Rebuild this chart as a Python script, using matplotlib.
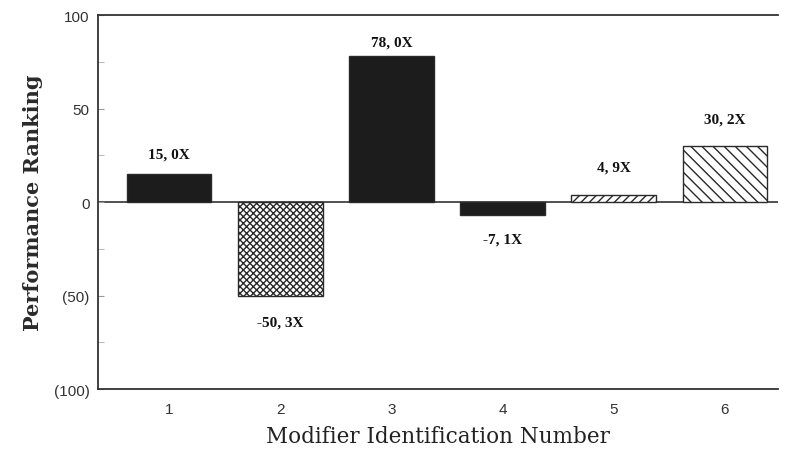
import matplotlib
matplotlib.use("Agg")
import matplotlib.pyplot as plt
from matplotlib.ticker import FixedLocator, FuncFormatter

# data
modifiers = [1, 2, 3, 4, 5, 6]
ranking = [15, -50, 78, -7, 4, 30]
labels = ["15, 0X", "-50, 3X", "78, 0X", "-7, 1X", "4, 9X", "30, 2X"]
label_y = [25.7, -64.2, 85.6, -19.8, 18.7, 44.4]
hatches = [None, "xxxxx", None, None, "////", "\\\\\\"]
fills = ["#1c1c1c", "white", "#1c1c1c", "#1c1c1c", "white", "white"]

plt.rcParams["hatch.linewidth"] = 1.0

fig = plt.figure(figsize=(7.86, 4.52), dpi=100)
ax = fig.add_axes([0.1247, 0.137, 0.8653, 0.8276])

bars = ax.bar(modifiers, ranking, width=0.76, color=fills,
              edgecolor="#2a2a2a", linewidth=1.0, zorder=2)
for b, h in zip(bars, hatches):
    if h:
        b.set_hatch(h)

for x, y, txt in zip(modifiers, label_y, labels):
    ax.text(x, y, txt, ha="center", va="center", fontsize=11,
            fontweight="bold", family="Liberation Serif", color="#111111")

ax.axhline(0, color="#333333", linewidth=1.2, zorder=1)

ax.set_xlim(0.36, 6.48)
ax.set_ylim(-100, 100)
ax.set_xticks(modifiers)
ax.set_yticks([-100, -50, 0, 50, 100])
ax.yaxis.set_minor_locator(FixedLocator([-75, -25, 25, 75]))
ax.yaxis.set_major_formatter(FuncFormatter(lambda v, p: f"({abs(int(v))})" if v < 0 else f"{int(v)}"))

ax.tick_params(axis="x", length=0, pad=9, labelsize=11, labelcolor="#333333")
ax.tick_params(axis="y", which="major", direction="in", length=4, width=0.8,
               color="#999999", labelsize=11, labelcolor="#333333", pad=6)
ax.tick_params(axis="y", which="minor", direction="in", length=4, width=0.8, color="#bbbbbb")
for lab in ax.get_xticklabels() + ax.get_yticklabels():
    lab.set_family("Liberation Sans")

ax.spines["right"].set_visible(False)
for s in ["left", "top", "bottom"]:
    ax.spines[s].set_linewidth(1.3)
    ax.spines[s].set_color("#333333")

ax.set_ylabel("Performance Ranking", family="DejaVu Serif", fontsize=15,
              fontweight="bold", color="#2a2a2a", labelpad=8)
ax.set_xlabel("Modifier Identification Number", family="DejaVu Serif",
              fontsize=15.5, color="#222222", labelpad=7)

fig.savefig("out.png", dpi=100)
